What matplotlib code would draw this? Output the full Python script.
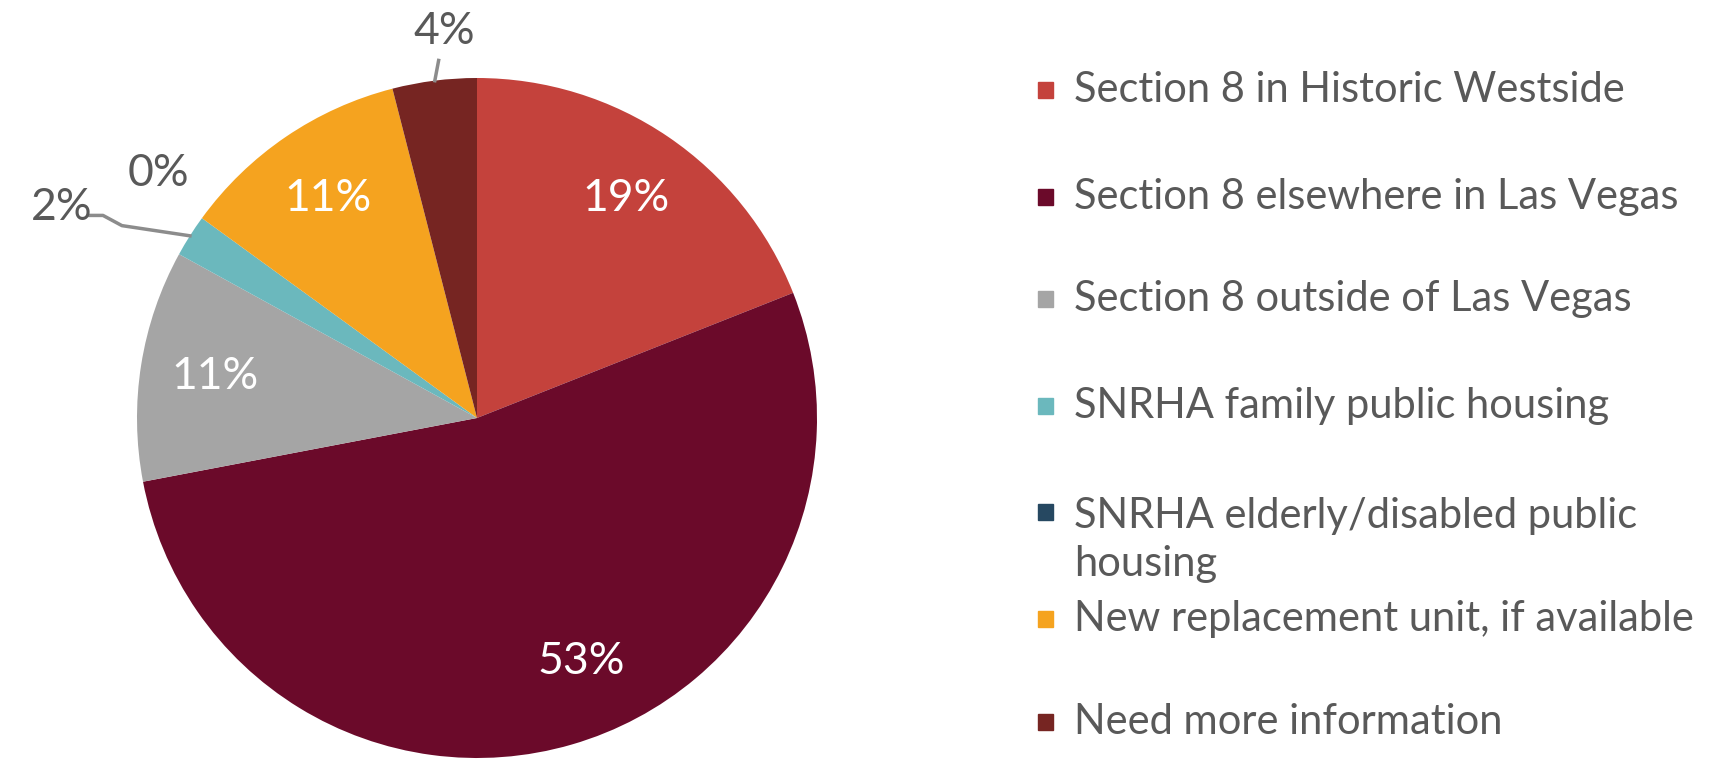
import numpy as np
import matplotlib.pyplot as plt
from matplotlib.patches import Rectangle

categories = ['Section 8 in Historic Westside',
              'Section 8 elsewhere in Las Vegas',
              'Section 8 outside of Las Vegas',
              'SNRHA family public housing',
              'SNRHA elderly/disabled public\nhousing',
              'New replacement unit, if available',
              'Need more information']
shares = [19, 53, 11, 2, 0, 11, 4]
colors = ['#C4423C', '#6B0A2A', '#A5A5A5', '#6BB8BD', '#264861', '#F5A31F', '#762522']
inside = [True, True, True, False, False, True, False]

plt.rcParams['font.family'] = ['Lato', 'DejaVu Sans']
grey = '#595959'

fig = plt.figure(figsize=(17.19, 7.6), dpi=100)
ax = fig.add_axes([137 / 1719, 2 / 760, 680 / 1719, 680 / 760])
wedges, _ = ax.pie(shares, colors=colors, startangle=90, counterclock=False,
                   radius=1, wedgeprops=dict(linewidth=0))
ax.set_xlim(-1, 1)
ax.set_ylim(-1, 1)
ax.set_aspect('equal')
ax.axis('off')

total = float(sum(shares))
cum = np.cumsum([0] + shares[:-1])
# outside label placement (radius factor, angle nudge) for the small slices
outside_pos = {3: (1.37, 5.5), 4: (1.18, -1.5), 6: (1.14, -2.3)}
for i, v in enumerate(shares):
    mid = 90 - 360 * (cum[i] + v / 2) / total
    a = np.deg2rad(mid)
    if inside[i]:
        r = 0.78
        if i == 1:
            a = np.deg2rad(mid + 7)
        ax.text(r * np.cos(a), r * np.sin(a), f'{v}%', color='white',
                fontsize=32, ha='center', va='center')
    else:
        rf, dn = outside_pos[i]
        b = np.deg2rad(mid + dn)
        ax.text(rf * np.cos(b), rf * np.sin(b), f'{v}%', color=grey,
                fontsize=32, ha='center', va='center')

# leader lines
m6 = np.deg2rad(90 - 360 * (cum[6] + shares[6] / 2) / total)
ax.plot([0.99 * np.cos(m6), 1.06 * np.cos(m6) + 0.02],
        [1.0 * np.sin(m6), 1.06 * np.sin(m6)], color='#8C8C8C', lw=2.5,
        clip_on=False)
m3 = np.deg2rad(90 - 360 * (cum[3] + shares[3] / 2) / total)
ex, ey = 1.0 * np.cos(m3), 1.0 * np.sin(m3)
ax.plot([ex, ex - 0.2, -1.10, -1.10 - 0.04],
        [ey, ey + 0.03, ey + 0.06, ey + 0.06],
        color='#8C8C8C', lw=2.5, clip_on=False)

# legend
rows_y = [90, 197, 299, 406, 540, 619, 722]
marker_y = [90, 197, 299, 406, 512, 619, 722]
for lab, col, y, my in zip(categories, colors, rows_y, marker_y):
    fig.patches.append(Rectangle((1038 / 1719, 1 - (my + 8) / 760), 15 / 1719, 16 / 760,
                                 transform=fig.transFigure, color=col))
    fig.text(1074 / 1719, 1 - y / 760, lab, fontsize=30, color=grey,
             ha='left', va='center', linespacing=1.3)

fig.savefig('out.png', dpi=100, facecolor='white')
